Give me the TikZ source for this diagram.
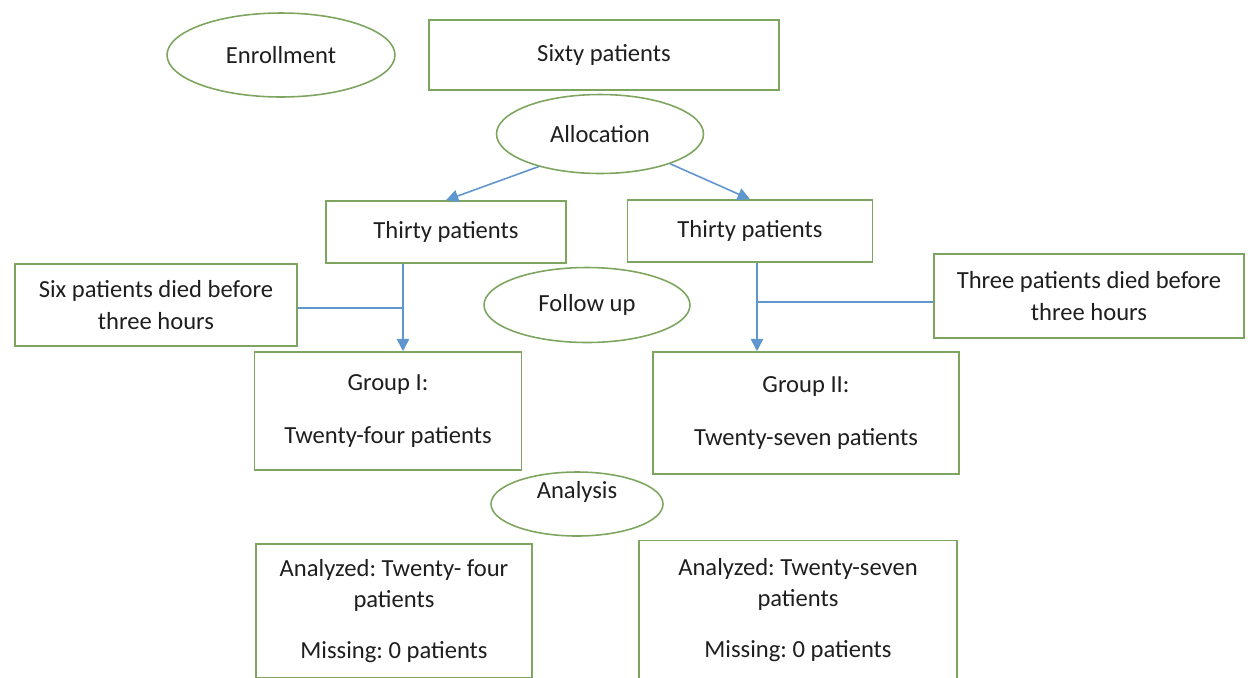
\documentclass[tikz,border=0pt]{standalone}
\usepackage{fontspec}
\setmainfont{Carlito}
\usepackage{tikz}
\usetikzlibrary{shapes.geometric,arrows.meta}
\definecolor{boxgreen}{RGB}{125,165,95}
\definecolor{linkblue}{RGB}{95,150,205}
\definecolor{inkgray}{RGB}{30,30,30}
\frenchspacing

\begin{document}
\begin{tikzpicture}[x=0.02cm,y=-0.02cm,
  font=\fontsize{14}{18}\selectfont,text=inkgray,
  box/.style={draw=boxgreen,line width=0.9pt,align=center,inner sep=0pt},
  oval/.style={draw=boxgreen,line width=0.9pt,ellipse,inner sep=0pt},
  link/.style={draw=linkblue,line width=0.9pt},
  >={Triangle[length=7pt,width=7pt]}]
  \path[use as bounding box,clip] (0,0) rectangle (1248,677);
  % stage labels
  \node[oval,minimum width=4.56cm,minimum height=1.68cm] (enroll) at (281,55) {Enrollment};
  \node[oval,minimum width=4.14cm,minimum height=1.58cm] (alloc) at (600,134) {Allocation};
  \node[oval,minimum width=4.12cm,minimum height=1.5cm] (follow) at (587,305) {Follow up};
  \node[oval,minimum width=3.44cm,minimum height=1.28cm] (analysis) at (577,504) {\raisebox{0.55cm}{Analysis}};
  % boxes
  \node[box,minimum width=7cm,minimum height=1.4cm] (sixty) at (604,55) {Sixty patients};
  \node[box,minimum width=4.8cm,minimum height=1.24cm] (thirtyA) at (446,232) {Thirty patients};
  \node[box,minimum width=4.9cm,minimum height=1.24cm] (thirtyB) at (750,231) {Thirty patients};
  \node[box,minimum width=5.64cm,minimum height=1.64cm] (sixdied) at (156,305) {Six patients died before\\three hours};
  \node[box,minimum width=6.2cm,minimum height=1.68cm] (threedied) at (1089,296) {Three patients died before\\three hours};
  \node[box,minimum width=5.34cm,minimum height=2.36cm] (grpA) at (388,411) {Group I:\\[12pt]Twenty-four patients};
  \node[box,minimum width=6.12cm,minimum height=2.44cm] (grpB) at (806,413) {Group II:\\[12pt]Twenty-seven patients};
  \node[box,minimum width=5.52cm,minimum height=2.68cm] (anaA) at (394,611) {Analyzed: Twenty- four\\patients\\[11pt]Missing: 0 patients};
  \node[box,minimum width=6.36cm,minimum height=2.78cm] (anaB) at (798,610) {Analyzed: Twenty-seven\\patients\\[11pt]Missing: 0 patients};
  % connectors
  \path[link,->] (alloc.208) -- (thirtyA.north);
  \path[link,->] (alloc.337) -- (thirtyB.north);
  \coordinate (joinA) at (403,308);
  \coordinate (joinB) at (757,302);
  \path[link,->] (joinA |- thirtyA.south) -- (joinA |- grpA.north);
  \path[link] (sixdied.east |- joinA) -- (joinA);
  \path[link,->] (joinB |- thirtyB.south) -- (joinB |- grpB.north);
  \path[link] (joinB) -- (threedied.west |- joinB);
\end{tikzpicture}
\end{document}
